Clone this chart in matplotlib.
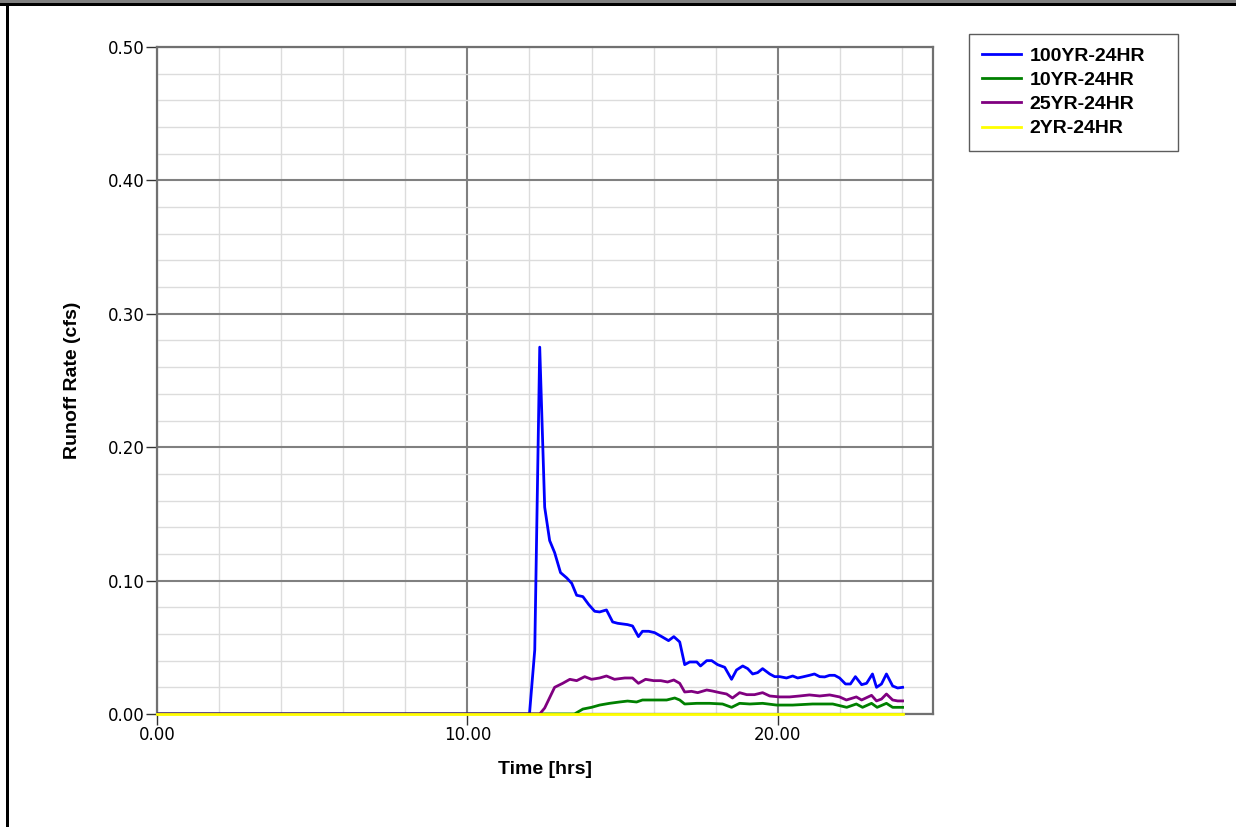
import matplotlib
matplotlib.use("Agg")
import matplotlib.pyplot as plt
from matplotlib.patches import Rectangle
from matplotlib.ticker import MultipleLocator, FormatStrFormatter

# ---- data ----
t_100 = [0, 12.0, 12.17, 12.33, 12.49, 12.65, 12.81, 13.0, 13.2, 13.36, 13.52, 13.72, 13.91,
         14.1, 14.26, 14.48, 14.68, 14.84, 15.16, 15.32, 15.51, 15.64, 15.84, 16.03, 16.26,
         16.48, 16.65, 16.84, 17.0, 17.16, 17.39, 17.51, 17.71, 17.87, 18.06, 18.29, 18.51,
         18.67, 18.87, 19.03, 19.19, 19.35, 19.51, 19.74, 19.9, 20.06, 20.28, 20.48, 20.64,
         20.8, 21.02, 21.18, 21.35, 21.51, 21.67, 21.83, 21.99, 22.18, 22.34, 22.5, 22.7,
         22.86, 23.05, 23.18, 23.34, 23.5, 23.7, 23.86, 24.02]
q_100 = [0, 0, 0.048, 0.275, 0.155, 0.130, 0.121, 0.106, 0.102, 0.098, 0.089, 0.088, 0.082,
         0.077, 0.0765, 0.078, 0.069, 0.068, 0.067, 0.066, 0.058, 0.062, 0.062, 0.061, 0.058,
         0.055, 0.058, 0.054, 0.037, 0.039, 0.039, 0.036, 0.040, 0.040, 0.037, 0.035, 0.026,
         0.033, 0.036, 0.034, 0.030, 0.031, 0.034, 0.030, 0.028, 0.028, 0.027, 0.0285, 0.027,
         0.0278, 0.029, 0.030, 0.028, 0.0278, 0.029, 0.029, 0.027, 0.0225, 0.0225, 0.028, 0.022,
         0.023, 0.030, 0.020, 0.0225, 0.030, 0.021, 0.0195, 0.020]

t_10 = [0, 13.45, 13.72, 14.0, 14.26, 14.58, 14.9, 15.16, 15.45, 15.64, 15.97, 16.2, 16.42,
        16.68, 16.84, 17.0, 17.39, 17.8, 18.22, 18.51, 18.77, 19.1, 19.51, 19.96, 20.48,
        21.12, 21.77, 22.22, 22.53, 22.73, 23.02, 23.2, 23.5, 23.7, 24.02]
q_10 = [0, 0, 0.0037, 0.005, 0.0067, 0.008, 0.009, 0.0097, 0.009, 0.0105, 0.0105, 0.0105, 0.0105,
        0.012, 0.0105, 0.0075, 0.008, 0.008, 0.0075, 0.005, 0.008, 0.0075, 0.008, 0.0067, 0.0067,
        0.0075, 0.0075, 0.005, 0.0075, 0.005, 0.008, 0.005, 0.008, 0.005, 0.005]

t_25 = [0, 12.33, 12.49, 12.81, 13.07, 13.3, 13.52, 13.78, 14.0, 14.26, 14.48, 14.74, 15.07,
        15.32, 15.51, 15.74, 16.0, 16.23, 16.45, 16.65, 16.84, 17.0, 17.22, 17.42, 17.71,
        17.9, 18.13, 18.35, 18.54, 18.77, 19.0, 19.25, 19.51, 19.74, 20.06, 20.38, 20.7,
        21.02, 21.35, 21.67, 21.99, 22.21, 22.53, 22.7, 23.02, 23.18, 23.34, 23.5, 23.7,
        23.86, 24.02]
q_25 = [0, 0, 0.0045, 0.020, 0.023, 0.026, 0.025, 0.028, 0.026, 0.027, 0.0285, 0.026, 0.027,
        0.027, 0.023, 0.026, 0.025, 0.025, 0.024, 0.0255, 0.023, 0.0165, 0.017, 0.016, 0.018,
        0.0172, 0.016, 0.015, 0.012, 0.016, 0.0145, 0.0145, 0.016, 0.0135, 0.0128, 0.0128, 0.0135,
        0.0143, 0.0135, 0.0143, 0.0128, 0.0105, 0.0128, 0.0105, 0.014, 0.0098, 0.0112, 0.015, 0.0105,
        0.0098, 0.0098]

t_2 = [0, 24.02]
q_2 = [0, 0]

labels = ["100YR-24HR", "10YR-24HR", "25YR-24HR", "2YR-24HR"]
colors = ["#0000ff", "#008000", "#800080", "#ffff00"]

x_ticks = [0, 10, 20]
y_ticks = [0.0, 0.1, 0.2, 0.3, 0.4, 0.5]

# ---- figure ----
fig = plt.figure(figsize=(12.36, 8.27), dpi=100)
W, H = 1236, 827
ax = fig.add_axes([157 / W, 1 - 714 / H, (933 - 157) / W, (714 - 47) / H])

LW = 2.0
ax.plot(t_100, q_100, color=colors[0], lw=LW, label=labels[0], zorder=4)
ax.plot(t_10, q_10, color=colors[1], lw=LW, label=labels[1], zorder=4)
ax.plot(t_25, q_25, color=colors[2], lw=LW, label=labels[2], zorder=4)
ax.plot(t_2, q_2, color=colors[3], lw=LW, label=labels[3], zorder=6, clip_on=False)

ax.set_xlim(0, 25)
ax.set_ylim(0, 0.5)
ax.set_xticks(x_ticks)
ax.set_yticks(y_ticks)
ax.xaxis.set_major_formatter(FormatStrFormatter("%.2f"))
ax.yaxis.set_major_formatter(FormatStrFormatter("%.2f"))
ax.xaxis.set_minor_locator(MultipleLocator(2))
ax.yaxis.set_minor_locator(MultipleLocator(0.02))

ax.grid(which="major", color="#808080", lw=1.5, zorder=1)
ax.grid(which="minor", color="#dcdcdc", lw=1.0, zorder=0)
ax.set_axisbelow(True)

ax.tick_params(which="major", direction="out", length=8, width=1, color="#333333",
               labelsize=12, pad=1)
ax.tick_params(which="minor", length=0)
for s in ax.spines.values():
    s.set_color("#707070")
    s.set_linewidth(1.6)

ax.set_xlabel("Time [hrs]", fontsize=14, fontweight="bold",
              fontfamily="Liberation Sans", labelpad=12)
ax.set_ylabel("Runoff Rate (cfs)", fontsize=14, fontweight="bold",
              fontfamily="Liberation Sans", labelpad=19)

leg = fig.legend(loc="upper left",
                 bbox_to_anchor=(969 / W, 1 - 151 / H, (1178 - 969) / W, (151 - 34) / H),
                 mode="expand",
                 frameon=True, fancybox=False, edgecolor="#333333",
                 prop={"family": "Liberation Sans", "weight": "bold", "size": 14},
                 handlelength=2.0, borderpad=0.68, labelspacing=0.34,
                 handletextpad=0.45, borderaxespad=0)
leg.get_frame().set_linewidth(1.0)
for h in leg.get_lines():
    h.set_linewidth(2)

# window-like frame around the chart
fig.add_artist(Rectangle((0, 1 - 3 / H), 1, 3 / H, transform=fig.transFigure,
                         color="#808080", lw=0))
fig.add_artist(Rectangle((0, 1 - 6 / H), 1, 3 / H, transform=fig.transFigure,
                         color="#000000", lw=0))
fig.add_artist(Rectangle((6 / W, 0), 2.5 / W, 1 - 6 / H, transform=fig.transFigure,
                         color="#000000", lw=0))

fig.savefig("out.png", dpi=100)
